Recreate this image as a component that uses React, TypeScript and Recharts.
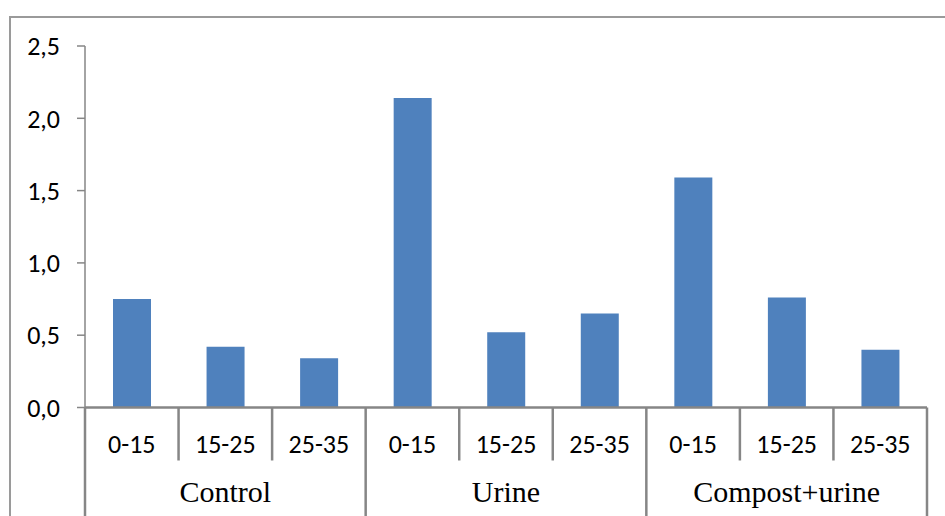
import React from 'react';
import { BarChart, Bar, XAxis, YAxis } from 'recharts';

// Treatments, sampling depths (cm) and measured values per depth
const groups = ['Control', 'Urine', 'Compost+urine'];
const depths = ['0-15', '15-25', '25-35'];
const values = [0.75, 0.42, 0.34, 2.14, 0.52, 0.65, 1.59, 0.76, 0.4];
const yTicks = [0, 0.5, 1, 1.5, 2, 2.5];

const data = values.map((v, i) => ({
  key: `${groups[Math.floor(i / depths.length)]}|${depths[i % depths.length]}`,
  depth: depths[i % depths.length],
  group: groups[Math.floor(i / depths.length)],
  value: v,
}));

const W = 945;
const H = 516;
const MARGIN = { top: 46, right: 18, left: 0, bottom: 0 };
const Y_AXIS_W = 85;
const X_AXIS_H = 108.5;
const BAND = (W - MARGIN.right - Y_AXIS_W) / data.length;
const AXIS_GREY = '#868686';

const sans = "Carlito, Calibri, 'Liberation Sans', Arial, sans-serif";
const serif = "'Liberation Serif', 'Times New Roman', 'DejaVu Serif', serif";

const TwoLevelTick = (props: any) => {
  const { x, y, payload } = props;
  const i: number = payload.index;
  const row = data[i];
  const left = x - BAND / 2;
  const right = x + BAND / 2;
  const groupStart = i % depths.length === 0;
  const isLast = i === data.length - 1;
  return (
    <g>
      <text
        x={x}
        y={y + 36}
        textAnchor="middle"
        dominantBaseline="central"
        style={{ fontFamily: sans, fontSize: 26 }}
        fill="#000"
      >
        {row.depth}
      </text>
      <line
        x1={left}
        x2={left}
        y1={y}
        y2={groupStart ? H : y + 53}
        stroke={AXIS_GREY}
        strokeWidth={2.5}
      />
      {isLast && (
        <line x1={right} x2={right} y1={y} y2={H} stroke={AXIS_GREY} strokeWidth={2.5} />
      )}
      {i % depths.length === 1 && (
        <text
          x={x}
          y={y + 94.5}
          textAnchor="middle"
          style={{ fontFamily: serif, fontSize: 30 }}
          fill="#000"
        >
          {row.group}
        </text>
      )}
    </g>
  );
};

const fmt = (v: number) => v.toFixed(1).replace('.', ',');

export default function App() {
  return (
    <div
      style={{
        position: 'fixed',
        left: 0,
        top: 0,
        width: W,
        height: H,
        overflow: 'hidden',
        background: '#fff',
      }}
    >
      <div
        style={{
          position: 'absolute',
          left: 9,
          top: 16,
          width: 1200,
          height: 800,
          border: '2px solid #9a9a9a',
          boxSizing: 'border-box',
        }}
      />
      <div style={{ position: 'absolute', left: 0, top: 0 }}>
        <BarChart width={W} height={H} data={data} margin={MARGIN}>
          <XAxis
            dataKey="key"
            interval={0}
            height={X_AXIS_H}
            tickLine={false}
            tickSize={0}
            tickMargin={0}
            axisLine={{ stroke: AXIS_GREY, strokeWidth: 2.5 }}
            tick={<TwoLevelTick />}
          />
          <YAxis
            width={Y_AXIS_W}
            domain={[0, 2.5]}
            ticks={yTicks}
            tickFormatter={fmt}
            tickSize={8}
            tickMargin={17}
            axisLine={{ stroke: AXIS_GREY, strokeWidth: 1.5 }}
            tickLine={{ stroke: AXIS_GREY, strokeWidth: 1.5 }}
            tick={{ fill: '#000', fontSize: 26, fontFamily: sans }}
          />
          <Bar dataKey="value" fill="#4f81bd" barSize={38} isAnimationActive={false} />
        </BarChart>
      </div>
    </div>
  );
}
